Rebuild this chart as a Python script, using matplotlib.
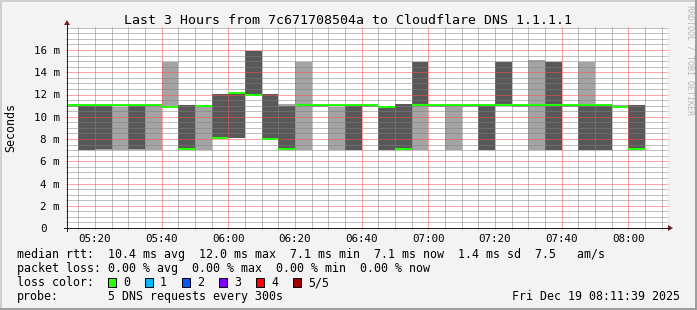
import matplotlib
matplotlib.use("Agg")
import matplotlib.pyplot as plt
import numpy as np
from matplotlib.patches import Rectangle, Polygon
from matplotlib.lines import Line2D
from matplotlib.ticker import FixedLocator

# ---------------- data ----------------
title = "Last 3 Hours from 7c671708504a to Cloudflare DNS 1.1.1.1"
window_start = "05:11:39"
window_end = "08:11:39"
step_minutes = 5

# end time of each 5-minute measurement interval
interval_end = ["05:15", "05:20", "05:25", "05:30", "05:35", "05:40", "05:45",
                "05:50", "05:55", "06:00", "06:05", "06:10", "06:15", "06:20",
                "06:25", "06:30", "06:35", "06:40", "06:45", "06:50", "06:55",
                "07:00", "07:05", "07:10", "07:15", "07:20", "07:25", "07:30",
                "07:35", "07:40", "07:45", "07:50", "07:55", "08:00", "08:05"]

# sorted ping results (ms) per interval: ping1 (lowest) ... ping5 (highest)
ping1 = [10.9, 7.0, 7.0, 7.0, 7.0, 7.05, 10.9, 7.1, 7.0, 8.1, 8.1, 12.0, 7.95, 7.1,
         7.05, 10.9, 7.0, 7.05, 10.9, 7.0, 7.1, 7.05, 10.9, 7.05, 10.9, 7.05, 11.05,
         10.9, 7.0, 7.05, 10.9, 7.0, 7.05, 10.9, 7.1]
ping2 = [11.0, 7.0, 7.1, 10.9, 7.1, 11.0, 10.9, 7.1, 10.9, 8.1, 8.1, 12.0, 7.95, 7.1,
         11.0, 11.0, 10.9, 7.05, 11.0, 7.0, 7.1, 11.05, 11.0, 10.95, 11.0, 7.05, 11.1,
         11.0, 10.95, 7.05, 11.0, 7.0, 7.05, 10.95, 7.1]
ping3 = [11.0, 11.0, 11.0, 10.9, 11.0, 11.0, 10.9, 7.1, 10.9, 8.1, 12.05, 12.0, 8.0, 7.1,
         11.0, 11.0, 10.9, 11.0, 11.0, 10.85, 7.1, 11.05, 11.0, 10.95, 11.0, 11.0, 11.1,
         11.0, 11.0, 11.1, 11.0, 11.0, 11.0, 10.95, 7.1]
ping4 = [11.0, 11.0, 11.0, 10.9, 11.0, 11.0, 10.95, 11.05, 10.9, 12.05, 12.05, 15.9, 12.05, 11.0,
         11.0, 11.0, 10.9, 11.0, 11.0, 10.85, 11.15, 14.9, 11.0, 10.95, 11.0, 11.0, 14.9,
         11.0, 11.0, 14.9, 11.0, 11.0, 11.0, 10.95, 11.05]
ping5 = [11.0, 11.0, 11.0, 10.9, 11.0, 11.0, 14.9, 11.05, 10.9, 12.05, 12.05, 15.9, 12.05, 11.15,
         14.9, 11.0, 10.9, 11.0, 11.0, 10.85, 11.15, 14.9, 11.0, 10.95, 11.0, 11.0, 14.9,
         11.0, 15.1, 14.9, 11.0, 14.9, 11.0, 11.05, 11.05]
median_rtt = [11.05, 11.05, 11.05, 11.05, 11.05, 11.05, 10.9, 7.1, 10.95, 8.1, 12.1, 12.0, 8.0, 7.1,
              11.05, 11.05, 11.05, 11.05, 11.05, 10.9, 7.1, 11.05, 11.05, 11.05, 11.05, 11.05, 11.1,
              11.1, 11.1, 11.1, 11.05, 11.05, 11.05, 10.9, 7.1]

y_ticks = [0, 2, 4, 6, 8, 10, 12, 14, 16]
y_tick_labels = ["0", "2 m", "4 m", "6 m", "8 m", "10 m", "12 m", "14 m", "16 m"]
x_tick_labels = ["05:20", "05:40", "06:00", "06:20", "06:40", "07:00", "07:20", "07:40", "08:00"]

legend_rows = [
    "median rtt:  10.4 ms avg  12.0 ms max  7.1 ms min  7.1 ms now  1.4 ms sd  7.5   am/s",
    "packet loss: 0.00 % avg  0.00 % max  0.00 % min  0.00 % now",
]
loss_labels = ["0", "1", "2", "3", "4", "5/5"]
loss_colors = ["#26ff00", "#00b8ff", "#0059ff", "#7e00ff", "#ff0000", "#a00000"]
probe_text = "5 DNS requests every 300s"
timestamp = "Fri Dec 19 08:11:39 2025"
watermark = "RRDTOOL / TOBI OETIKER"

# ---------------- style ----------------
W, H, DPI = 697, 310, 100
BACK = "#f3f3f3"
LIGHT = "#a4a4a4"
DARK = "#585858"
GREEN = "#26ff00"
MONO = "DejaVu Sans Mono"
GRID = (0.5, 0.5, 0.5, 0.3)
MGRID = (1.0, 0.3, 0.3, 0.35)
PX = 72.0 / DPI  # points per pixel


def tmin(s):
    parts = [float(p) for p in s.split(":")]
    return parts[0] * 60 + parts[1] + (parts[2] / 60 if len(parts) > 2 else 0)


def fx(x):
    return x / W


def fy(y):
    return 1 - y / H


fig = plt.figure(figsize=(W / DPI, H / DPI), dpi=DPI, facecolor=BACK)

# plot area: x 67..667 px, y 27.75..228 px
ax = fig.add_axes([fx(67), fy(228), 600 / W, 200.25 / H])
ax.set_facecolor("white")
t0, t1 = tmin(window_start), tmin(window_end)
ax.set_xlim(t0, t1)
ax.set_ylim(0, 18)
for s in ax.spines.values():
    s.set_visible(False)

ends = np.array([tmin(t) for t in interval_end])
starts = ends - step_minutes
p1, p2, p3, p4, p5 = (np.array(a) for a in (ping1, ping2, ping3, ping4, ping5))
med = np.array(median_rtt)

ax.bar(starts, p5 - p1, width=step_minutes, bottom=p1, align="edge",
       color=LIGHT, lw=0, antialiased=False, zorder=1)
ax.bar(starts, p4 - p2, width=step_minutes, bottom=p2, align="edge",
       color=DARK, lw=0, antialiased=False, zorder=1.1)
ax.hlines(med, starts, ends, colors=GREEN, lw=2 * PX, zorder=3)

# grid
x_major = [tmin(t) for t in x_tick_labels]
x_minor = list(np.arange(np.ceil(t0 / 5) * 5, t1, 5))
ax.xaxis.set_major_locator(FixedLocator(x_major))
ax.xaxis.set_minor_locator(FixedLocator(x_minor))
ax.set_xticklabels(x_tick_labels)
ax.yaxis.set_major_locator(FixedLocator(y_ticks))
ax.yaxis.set_minor_locator(FixedLocator(list(np.arange(0.5, 18.01, 0.5))))
ax.set_yticklabels(y_tick_labels)
ax.set_axisbelow(False)
ax.grid(which="minor", color=GRID, lw=PX, ls=(0, (1, 1)), zorder=2)
ax.grid(which="major", color=MGRID, lw=PX, ls=(0, (1, 1)), zorder=2)

ax.tick_params(which="both", length=2 * PX, width=PX, direction="out")
ax.tick_params(which="minor", color=GRID)
ax.tick_params(which="major", color=MGRID)
ax.tick_params(axis="y", which="both", left=True, right=True)
ax.tick_params(axis="x", which="both", bottom=True, top=True)
ax.tick_params(axis="y", which="major", pad=5 * PX, labelsize=7.8, labelcolor="black")
ax.tick_params(axis="x", which="major", pad=4 * PX, labelsize=7.8, labelcolor="black")
for lab in ax.get_xticklabels() + ax.get_yticklabels():
    lab.set_family(MONO)
# "0" label sits two characters left of the unit column
zero_tick = ax.yaxis.get_major_ticks()[0]
zero_tick.label1.set_x(-(2 * 0.602 * 7.8 / PX) / 600)

# axis lines and arrows
AX_COL = "#202020"
ARROW = "#802020"
fig.add_artist(Line2D([fx(64), fx(670)], [fy(228), fy(228)], color=AX_COL, lw=PX))
fig.add_artist(Line2D([fx(67), fx(67)], [fy(231), fy(24)], color=AX_COL, lw=PX))
fig.add_artist(Polygon([[fx(673), fy(228)], [fx(668), fy(225)], [fx(668), fy(231)]],
                       closed=True, color=ARROW, lw=0))
fig.add_artist(Polygon([[fx(67), fy(20)], [fx(64), fy(25)], [fx(70), fy(25)]],
                       closed=True, color=ARROW, lw=0))

# texts
fig.text(fx(348), fy(24), title, family=MONO, fontsize=9.5, ha="center", va="baseline")
fig.text(fx(10.5), fy(128), "Seconds", family=MONO, fontsize=8.4, rotation=90,
         ha="center", va="center")
fig.text(fx(690), fy(5), watermark, family=MONO, fontsize=6, rotation=270,
         ha="center", va="top", color="#b8b8b8")

LX = 16.7
rows_y = [258, 272, 286, 300]
for txt, yy in zip(legend_rows, rows_y[:2]):
    fig.text(fx(LX), fy(yy), txt, family=MONO, fontsize=8.4, ha="left", va="baseline")
fig.text(fx(LX), fy(rows_y[2]), "loss color:", family=MONO, fontsize=8.4,
         ha="left", va="baseline")
for k, (lab, col) in enumerate(zip(loss_labels, loss_colors)):
    bx = 108 + 37 * k
    fig.add_artist(Rectangle((fx(bx), fy(286.5)), 8 / W, 8.5 / H, facecolor=col,
                             edgecolor="black", lw=PX))
    fig.text(fx(bx + 15), fy(rows_y[2]), lab, family=MONO, fontsize=8.4,
             ha="left", va="baseline")
fig.text(fx(LX), fy(rows_y[3]), "probe:", family=MONO, fontsize=8.4, ha="left", va="baseline")
fig.text(fx(107.7), fy(rows_y[3]), probe_text, family=MONO, fontsize=8.4, ha="left", va="baseline")
fig.text(fx(680), fy(rows_y[3]), timestamp, family=MONO, fontsize=8.4, ha="right", va="baseline")

# 3D frame
fig.add_artist(Line2D([0, 1], [fy(1), fy(1)], color="#cfcfcf", lw=2 * PX))
fig.add_artist(Line2D([fx(1), fx(1)], [0, 1], color="#cfcfcf", lw=2 * PX))
fig.add_artist(Line2D([0, 1], [fy(H - 1), fy(H - 1)], color="#9e9e9e", lw=2 * PX))
fig.add_artist(Line2D([fx(W - 1), fx(W - 1)], [0, 1], color="#9e9e9e", lw=2 * PX))

fig.savefig("out.png", dpi=DPI, facecolor=BACK)
